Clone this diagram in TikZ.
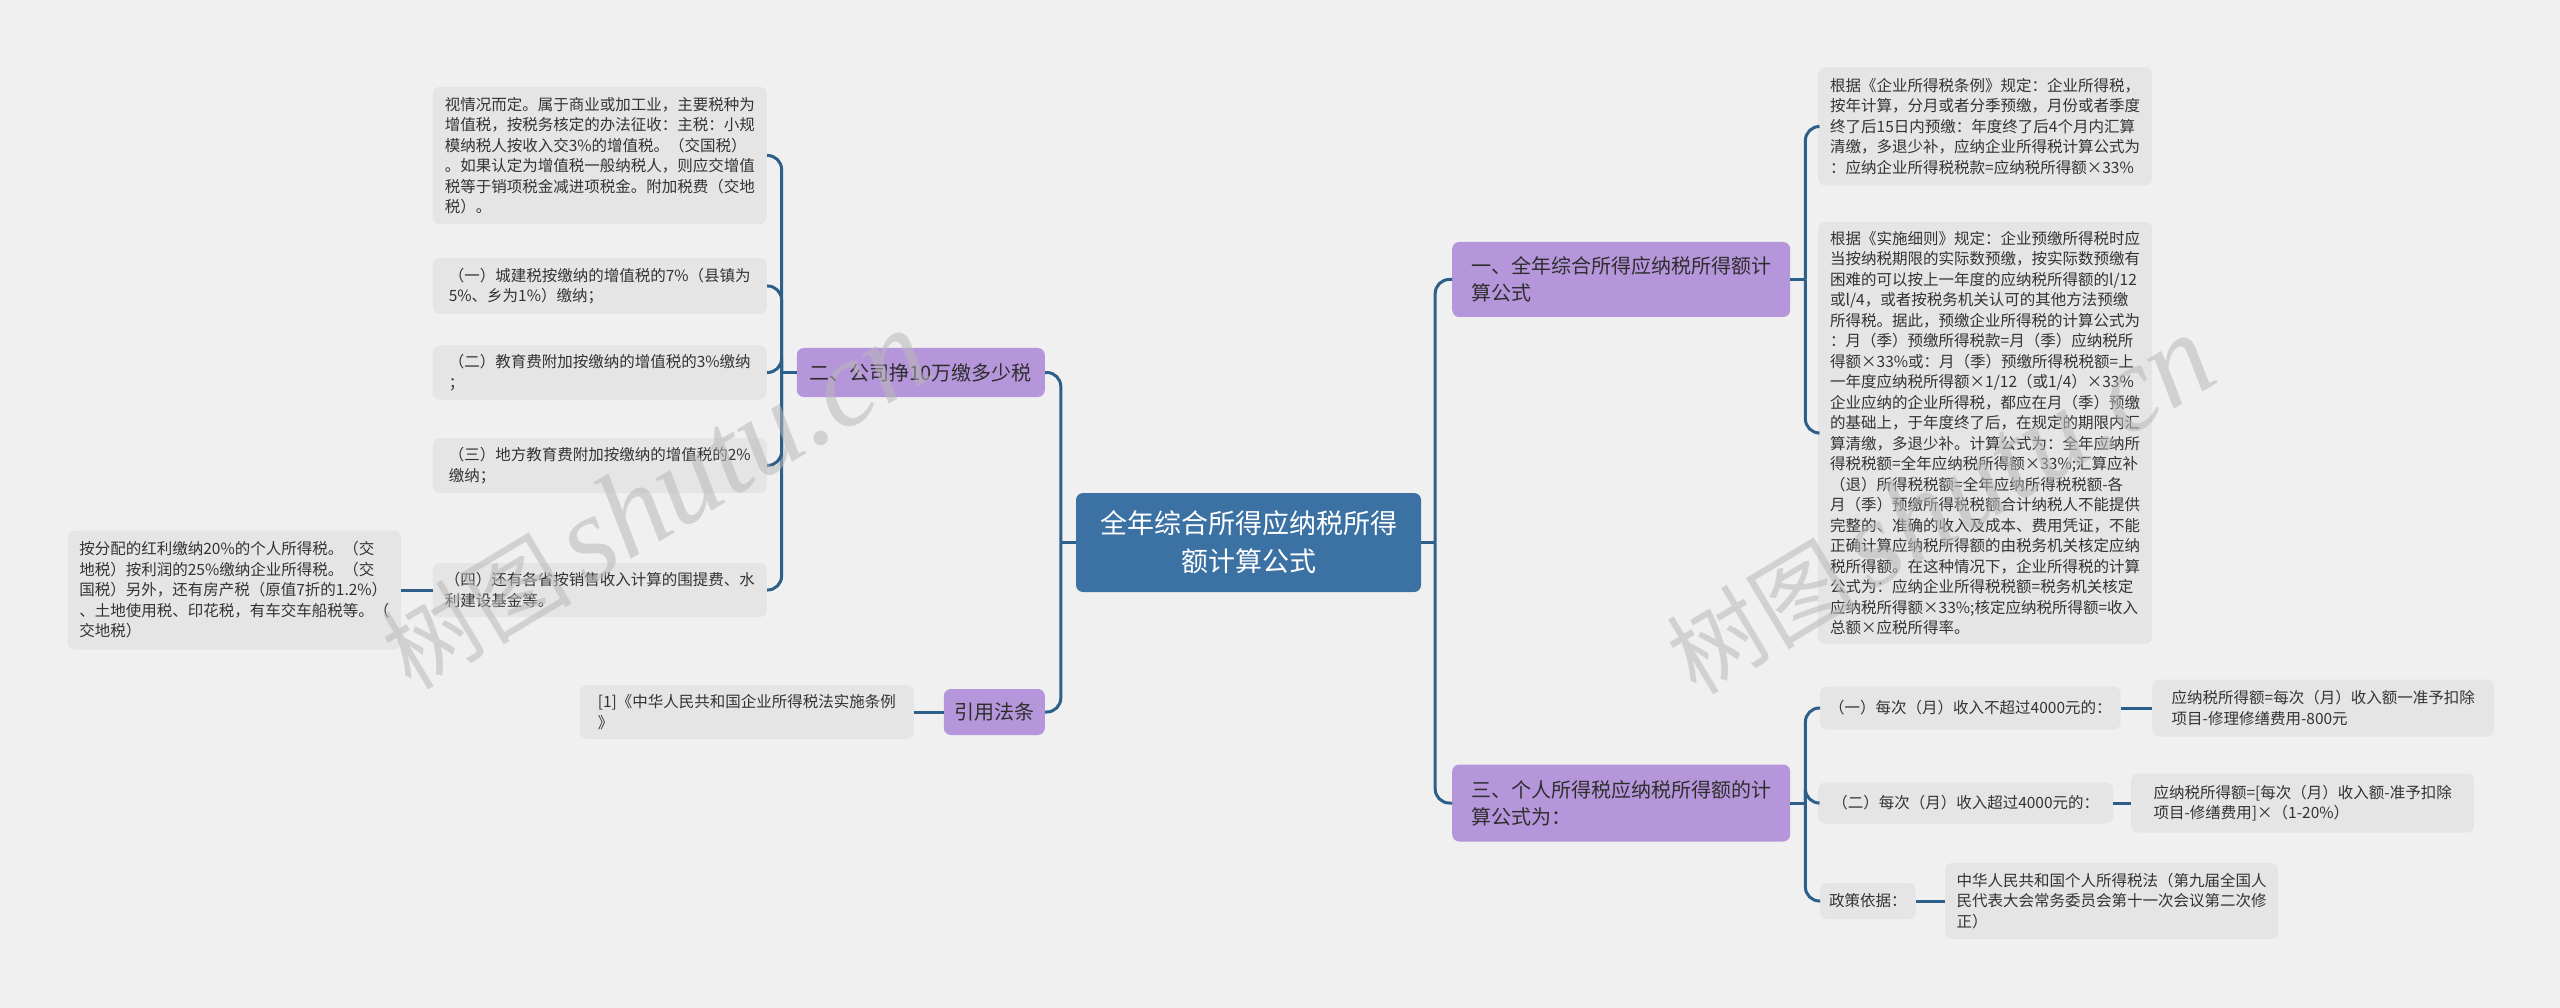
\documentclass[tikz,border=0pt]{standalone}
\usepackage{fontspec}
\newfontfamily\cjk{Noto Sans CJK SC}
\newfontfamily\wmserif{Liberation Serif}
\usetikzlibrary{calc}
\definecolor{bgc}{HTML}{F0F0F0}
\definecolor{leafbg}{HTML}{E5E5E5}
\definecolor{leaftext}{HTML}{333333}
\definecolor{topicbg}{HTML}{B696DA}
\definecolor{topictext}{HTML}{2E2E2E}
\definecolor{rootbg}{HTML}{3B71A3}
\definecolor{connc}{HTML}{2D5F8B}
\definecolor{wm}{HTML}{B8B8B8}
\begin{document}
\begin{tikzpicture}[x=1pt,y=-1pt,
 leaf/.style={fill=leafbg, rounded corners=7pt, inner xsep=9pt, inner ysep=3pt, font=\cjk\fontsize{15.5}{20.5}\selectfont, text=leaftext, align=left},
 topic/.style={fill=topicbg, rounded corners=7pt, inner xsep=8pt, inner ysep=3pt, font=\cjk\fontsize{20}{27}\selectfont, text=topictext, align=left},
 rootbox/.style={fill=rootbg, rounded corners=7pt, inner sep=6pt, font=\cjk\fontsize{27}{38}\selectfont, text=white, align=center},
 conn/.style={draw=connc, line width=3pt, rounded corners=14pt},
 wmark/.style={text=wm, opacity=0.55, rotate=31, inner sep=0pt}
]
\fill[bgc] (0,0) rectangle (2560,1008);
\useasboundingbox (0,0) rectangle (2560,1008);

% root
\node[rootbox, minimum width=345pt, minimum height=99pt] (root) at (1248.5,542.5) {全年综合所得应纳税所得\\额计算公式};

% left topics
\node[topic, anchor=east, minimum width=248pt, minimum height=49pt] (t2) at (1045,372.5) {二、公司挣10万缴多少税};
\node[topic, anchor=east, minimum width=101pt, minimum height=46pt] (tref) at (1045,712) {引用法条};

% left leaves
\node[leaf, anchor=east, minimum width=334pt, minimum height=137pt] (la) at (767,155.5) {视情况而定。属于商业或加工业，主要税种为\\增值税，按税务核定的办法征收：主税：小规\\模纳税人按收入交3\%的增值税。（交国税）\\。如果认定为增值税一般纳税人，则应交增值\\税等于销项税金减进项税金。附加税费（交地\\税）。};
\node[leaf, anchor=east, minimum width=334pt, minimum height=56pt] (lb) at (767,286) {（一）城建税按缴纳的增值税的7\%（县镇为\\5\%、乡为1\%）缴纳；};
\node[leaf, anchor=east, minimum width=334pt, minimum height=54pt] (lc) at (767,372.5) {（二）教育费附加按缴纳的增值税的3\%缴纳\\；};
\node[leaf, anchor=east, minimum width=334pt, minimum height=55pt] (ld) at (767,465.5) {（三）地方教育费附加按缴纳的增值税的2\%\\缴纳；};
\node[leaf, anchor=east, minimum width=334pt, minimum height=54pt] (le) at (767,590) {（四）还有各省按销售收入计算的围提费、水\\利建设基金等。};
\node[leaf, anchor=east, minimum width=333pt, minimum height=119pt] (lf) at (401,590) {按分配的红利缴纳20\%的个人所得税。（交\\地税）按利润的25\%缴纳企业所得税。（交\\国税）另外，还有房产税（原值7折的1.2\%）\\、土地使用税、印花税，有车交车船税等。（\\交地税）};
\node[leaf, anchor=east, minimum width=334pt, minimum height=54pt] (lref) at (914,712) {[1]《中华人民共和国企业所得税法实施条例\\》};

% right topics
\node[topic, anchor=west, minimum width=338pt, minimum height=75pt] (t1) at (1452,279.5) {一、全年综合所得应纳税所得额计\\算公式};
\node[topic, anchor=west, minimum width=338pt, minimum height=77pt] (t3) at (1452,803) {三、个人所得税应纳税所得额的计\\算公式为：};

% right leaves
\node[leaf, anchor=west, minimum width=334pt, minimum height=118pt] (r1) at (1818,126.5) {根据《企业所得税条例》规定：企业所得税，\\按年计算，分月或者分季预缴，月份或者季度\\终了后15日内预缴：年度终了后4个月内汇算\\清缴，多退少补，应纳企业所得税计算公式为\\：应纳企业所得税税款=应纳税所得额×33\%};
\node[leaf, anchor=west, minimum width=334pt, minimum height=422pt] (r2) at (1818,433) {根据《实施细则》规定：企业预缴所得税时应\\当按纳税期限的实际数预缴，按实际数预缴有\\困难的可以按上一年度的应纳税所得额的l/12\\或l/4，或者按税务机关认可的其他方法预缴\\所得税。据此，预缴企业所得税的计算公式为\\：月（季）预缴所得税款=月（季）应纳税所\\得额×33\%或：月（季）预缴所得税税额=上\\一年度应纳税所得额×1/12（或1/4）×33\%\\企业应纳的企业所得税，都应在月（季）预缴\\的基础上，于年度终了后，在规定的期限内汇\\算清缴，多退少补。计算公式为：全年应纳所\\得税税额=全年应纳税所得额×33\%;汇算应补\\（退）所得税税额=全年应纳所得税税额-各\\月（季）预缴所得税税额合计纳税人不能提供\\完整的、准确的收入及成本、费用凭证，不能\\正确计算应纳税所得额的由税务机关核定应纳\\税所得额。在这种情况下，企业所得税的计算\\公式为：应纳企业所得税税额=税务机关核定\\应纳税所得额×33\%;核定应纳税所得额=收入\\总额×应税所得率。};

\node[leaf, anchor=west, minimum width=300pt, minimum height=43pt] (c1) at (1820,708) {（一）每次（月）收入不超过4000元的：};
\node[leaf, anchor=west, minimum width=342pt, minimum height=57pt] (c1f) at (2152,708) {应纳税所得额=每次（月）收入额一准予扣除\\项目-修理修缮费用-800元};
\node[leaf, anchor=west, minimum width=295pt, minimum height=41pt] (c2) at (1818,803) {（二）每次（月）收入超过4000元的：};
\node[leaf, anchor=west, minimum width=343pt, minimum height=59pt] (c2f) at (2131,803) {应纳税所得额=[每次（月）收入额-准予扣除\\项目-修缮费用]×（1-20\%）};
\node[leaf, anchor=west, minimum width=95pt, minimum height=36pt] (c3) at (1820,901) {政策依据：};
\node[leaf, anchor=west, minimum width=333pt, minimum height=76pt] (c3f) at (1945,901) {中华人民共和国个人所得税法（第九届全国人\\民代表大会常务委员会第十一次会议第二次修\\正）};

% connectors
\coordinate (jl) at ($(root.west)+(-15,0)$);
\coordinate (jr) at ($(root.east)+(14,0)$);
\coordinate (j2) at ($(t2.west)+(-15,0)$);
\coordinate (j1) at ($(t1.east)+(15,0)$);
\coordinate (j3) at ($(t3.east)+(15,0)$);
\draw[conn] (root.west) -- (jl);
\draw[conn] (jl) |- (t2.east);
\draw[conn] (jl) |- (tref.east);
\draw[conn] (root.east) -- (jr);
\draw[conn] (jr) |- (t1.west);
\draw[conn] (jr) |- (t3.west);
\draw[conn] (t2.west) -- (j2);
\foreach \n in {la,lb,lc,ld,le} \draw[conn] (j2) |- (\n.east);
\draw[conn] (le.west) -- (lf.east);
\draw[conn] (tref.west) -- (lref.east);
\draw[conn] (t1.east) -- (j1);
\draw[conn] (j1) |- (r1.west);
\draw[conn] (j1) |- (r2.west);
\draw[conn] (t3.east) -- (j3);
\draw[conn] (j3) |- (c1.west);
\draw[conn] (j3) |- (c2.west);
\draw[conn] (j3) |- (c3.west);
\draw[conn] (c1.east) -- (c1f.west);
\draw[conn] (c2.east) -- (c2f.west);
\draw[conn] (c3.east) -- (c3f.west);

% watermarks
\node[wmark] (wm1) at (655,500) {{\cjk\fontsize{95}{95}\selectfont 树图}\hspace{14pt}{\wmserif\itshape\fontsize{122}{122}\selectfont shutu.cn}};
\node[wmark] (wm2) at (1940,505) {{\cjk\fontsize{95}{95}\selectfont 树图}\hspace{14pt}{\wmserif\itshape\fontsize{122}{122}\selectfont shutu.cn}};
\end{tikzpicture}
\end{document}
